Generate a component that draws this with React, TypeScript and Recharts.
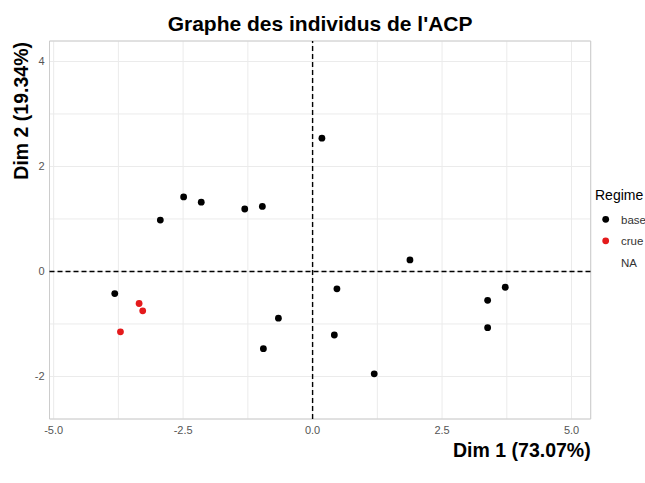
import React from 'react';
import {
  ScatterChart,
  Scatter,
  XAxis,
  YAxis,
  CartesianGrid,
  ReferenceLine,
  ReferenceArea,
  Legend,
} from 'recharts';

// ---- data ----
const chartTitle = "Graphe des individus de l'ACP";
const xTitle = 'Dim 1 (73.07%)';
const yTitle = 'Dim 2 (19.34%)';
const legendTitle = 'Regime';
const groupNames = ['base', 'crue', 'NA'];
const groupColors = ['#000000', '#E41A1C', 'none'];

const baseX = [-2.49, -2.15, -1.31, -0.97, -2.94, -3.82, -0.66, -0.95, 0.18, 1.88, 0.47, 0.42, 1.19, 3.72, 3.38, 3.38];
const baseY = [1.42, 1.32, 1.19, 1.24, 0.98, -0.42, -0.89, -1.47, 2.54, 0.22, -0.33, -1.21, -1.95, -0.3, -0.55, -1.07];
const crueX = [-3.35, -3.28, -3.71];
const crueY = [-0.61, -0.75, -1.15];

const xDomain = [-5.08, 5.37];
const yDomain = [-2.81, 4.39];
const xTicks = [-5, -3.75, -2.5, -1.25, 0, 1.25, 2.5, 3.75, 5];
const xTickLabels = ['-5.0', '', '-2.5', '', '0.0', '', '2.5', '', '5.0'];
const yTicks = [-2, -1, 0, 1, 2, 3, 4];
const yTickLabels = ['-2', '', '0', '', '2', '', '4'];

const baseData = baseX.map((x, i) => ({ x, y: baseY[i] }));
const crueData = crueX.map((x, i) => ({ x, y: crueY[i] }));

const FONT = '"Liberation Sans", Arial, Helvetica, sans-serif';

const makeDot = (color: string) => (props: any) => {
  const { cx, cy } = props;
  if (cx == null || cy == null) return <g />;
  return <circle cx={cx} cy={cy} r={3.4} fill={color} />;
};

const renderLegend = () => (
  <svg width={70} height={100} style={{ overflow: 'visible', display: 'block' }}>
    <text x={7} y={19.5} fontSize={14} fill="#000" fontFamily={FONT}>
      {legendTitle}
    </text>
    {groupNames.map((name, i) => (
      <g key={name}>
        {groupColors[i] !== 'none' && (
          <circle cx={17.7} cy={39.3 + i * 21.5} r={3.4} fill={groupColors[i]} />
        )}
        <text x={33} y={43.5 + i * 21.5} fontSize={11.5} fill="#333" fontFamily={FONT}>
          {name}
        </text>
      </g>
    ))}
  </svg>
);

export default function App() {
  return (
    <div
      style={{
        position: 'absolute',
        left: 0,
        top: 0,
        width: 645,
        height: 483,
        overflow: 'hidden',
        background: '#fff',
        fontFamily: FONT,
      }}
    >
      <div
        style={{
          position: 'absolute',
          left: 0,
          top: 13,
          width: 640.2,
          textAlign: 'center',
          fontSize: 21,
          lineHeight: '21px',
          fontWeight: 'bold',
          color: '#000',
          zIndex: 2,
        }}
      >
        {chartTitle}
      </div>
      <ScatterChart
        width={645}
        height={483}
        margin={{ top: 41, right: 54.3, bottom: 0, left: 0 }}
      >
        <CartesianGrid stroke="#ebebeb" strokeWidth={1} />
        <XAxis
          dataKey="x"
          type="number"
          domain={xDomain}
          allowDataOverflow
          ticks={xTicks}
          interval={0}
          tickFormatter={(v: number) => xTickLabels[xTicks.indexOf(v)] ?? ''}
          tickSize={0}
          tickMargin={7}
          axisLine={false}
          tick={{ fontSize: 11, fill: '#555', fontFamily: FONT }}
          height={64}
          label={{
            content: (p: any) => {
              const vb = p.viewBox || { x: 49.5, y: 419, width: 541.2, height: 64 };
              return (
                <text
                  x={vb.x + vb.width}
                  y={vb.y + 38}
                  textAnchor="end"
                  fontSize={19.5}
                  fontWeight="bold"
                  fill="#000"
                  fontFamily={FONT}
                >
                  {xTitle}
                </text>
              );
            },
          }}
        />
        <YAxis
          dataKey="y"
          type="number"
          domain={yDomain}
          allowDataOverflow
          ticks={yTicks}
          interval={0}
          tickFormatter={(v: number) => yTickLabels[yTicks.indexOf(v)] ?? ''}
          tickSize={0}
          tickMargin={5}
          axisLine={false}
          tick={{ fontSize: 11, fill: '#555', fontFamily: FONT }}
          width={49.5}
          label={{
            content: (p: any) => {
              const vb = p.viewBox || { x: 0, y: 41, width: 49.5, height: 378 };
              const tx = 27.5;
              const ty = vb.y + 1;
              return (
                <text
                  x={tx}
                  y={ty}
                  transform={`rotate(-90 ${tx} ${ty})`}
                  textAnchor="end"
                  fontSize={19.5}
                  fontWeight="bold"
                  fill="#000"
                  fontFamily={FONT}
                >
                  {yTitle}
                </text>
              );
            },
          }}
        />
        <ReferenceArea
          x1={xDomain[0]}
          x2={xDomain[1]}
          y1={yDomain[0]}
          y2={yDomain[1]}
          fill="none"
          fillOpacity={0}
          stroke="#cccccc"
          strokeWidth={1}
        />
        <ReferenceLine x={0} stroke="#000" strokeWidth={1.4} strokeDasharray="5 3" />
        <ReferenceLine y={0} stroke="#000" strokeWidth={1.4} strokeDasharray="5 3" />
        <Scatter
          name={groupNames[0]}
          data={baseData}
          fill={groupColors[0]}
          shape={makeDot(groupColors[0])}
          isAnimationActive={false}
        />
        <Scatter
          name={groupNames[1]}
          data={crueData}
          fill={groupColors[1]}
          shape={makeDot(groupColors[1])}
          isAnimationActive={false}
        />
        <Legend
          layout="vertical"
          align="center"
          verticalAlign="middle"
          wrapperStyle={{ left: 588, top: 180, width: 70, height: 100 }}
          content={renderLegend}
        />
      </ScatterChart>
    </div>
  );
}
